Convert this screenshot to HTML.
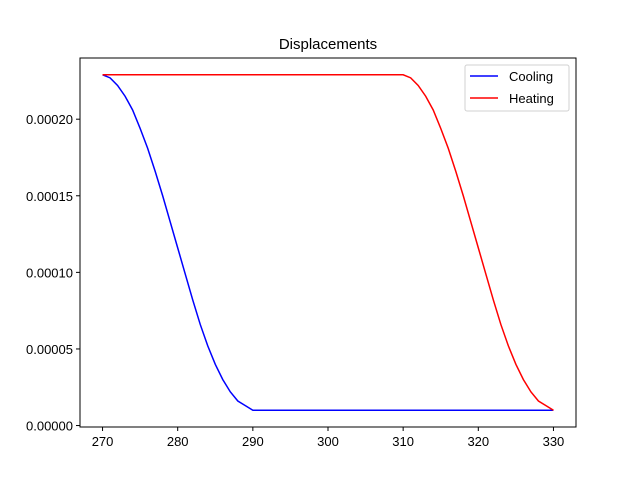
<!DOCTYPE html>
<html><head><meta charset="utf-8"><style>
body{margin:0;background:#fff}
svg text{font-family:"Liberation Sans",sans-serif;font-size:13px;fill:#000}
</style></head><body>
<svg id="chart" width="640" height="480" xmlns="http://www.w3.org/2000/svg">
<rect width="640" height="480" fill="#fff"/>
<text x="328" y="49" text-anchor="middle" font-size="15" style="font-size:15px">Displacements</text>
<g id="ticks"></g>
<g id="series"></g>
<rect x="80" y="58" width="496" height="369" fill="none" stroke="#000" stroke-width="1"/>
<g>
<rect x="465" y="65" width="104" height="46" rx="2" fill="#fff" stroke="#ccc" opacity="0.9"/>
<line x1="470" y1="76" x2="498" y2="76" stroke="blue" stroke-width="1.5"/>
<text x="509" y="81">Cooling</text>
<line x1="470" y1="98" x2="498" y2="98" stroke="red" stroke-width="1.5"/>
<text x="509" y="103">Heating</text>
</g>
</svg>
<script>
const temps=[];for(let t=270;t<=330;t++)temps.push(t);
const coolingDrop=[0.000229,0.000227,0.000222,0.000215,0.000206,0.000194,0.000181,0.000166,0.000150,0.000133,0.000116,0.000099,0.000082,0.000066,0.000052,0.000040,0.000030,0.000022,0.000016,0.000013,0.00001];
const heatingDrop=[0.000229,0.000227,0.000222,0.000215,0.000206,0.000194,0.000181,0.000166,0.000150,0.000133,0.000116,0.000099,0.000082,0.000066,0.000052,0.000040,0.000030,0.000022,0.000016,0.000013,0.00001];
const cooling=temps.map((t,i)=>i<coolingDrop.length?coolingDrop[i]:0.00001);
const heating=temps.map((t,i)=>i<40?0.000229:heatingDrop[i-40]);
const xTicks=[270,280,290,300,310,320,330];
const yTicks=[0,0.00005,0.0001,0.00015,0.0002];
const yLabels=["0.00000","0.00005","0.00010","0.00015","0.00020"];
const X=v=>80+(v-267)/66*496;
const Y=v=>427-(v+0.00000095)/0.0002409*369;
const NS="http://www.w3.org/2000/svg";
const tg=document.getElementById('ticks');
function mk(tag,attrs,parent){const e=document.createElementNS(NS,tag);for(const k in attrs)e.setAttribute(k,attrs[k]);parent.appendChild(e);return e;}
xTicks.forEach(v=>{
 const l=mk('line',{x1:X(v),x2:X(v),y1:427,y2:431,stroke:'#000'},tg);
 
 
 const t=mk('text',{x:X(v),y:446,'text-anchor':'middle'},tg);t.textContent=v;
 
 
});
yTicks.forEach((v,i)=>{
 const l=mk('line',{x1:76,x2:80,y1:Y(v),y2:Y(v),stroke:'#000'},tg);
 
 
 const t=mk('text',{x:73,y:Y(v)+5,'text-anchor':'end'},tg);t.textContent=yLabels[i];
 
 
});
const sg=document.getElementById('series');
[[cooling,'blue','cooling-line'],[heating,'red','heating-line']].forEach(([d,c,n])=>{
 const p=mk('polyline',{points:temps.map((t,i)=>X(t)+','+Y(d[i])).join(' '),fill:'none',stroke:c,'stroke-width':1.5},sg);
 
 
});
</script>
</body></html>
